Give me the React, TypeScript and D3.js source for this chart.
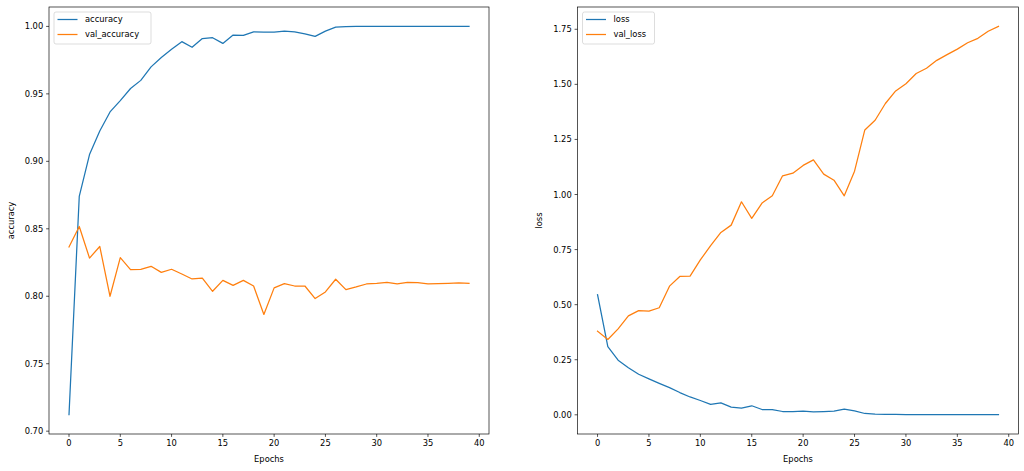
import React from "react";
import * as d3 from "d3";

const epochs: number[] = Array.from({ length: 40 }, (_, i) => i);

const accuracy: number[] = [
  0.7123, 0.874, 0.905, 0.9225, 0.9366, 0.945, 0.954, 0.96, 0.97, 0.977,
  0.983, 0.9887, 0.9845, 0.991, 0.9916, 0.9874, 0.9936, 0.9933, 0.996, 0.9958,
  0.9958, 0.9965, 0.996, 0.9945, 0.9926, 0.9965, 0.9995, 0.9999, 1.0, 1.0,
  1.0, 1.0, 1.0, 1.0, 1.0, 1.0, 1.0, 1.0, 1.0, 1.0,
];

const valAccuracy: number[] = [
  0.8365, 0.8517, 0.8283, 0.8369, 0.8, 0.8286, 0.8197, 0.82, 0.8222, 0.8177,
  0.82, 0.8165, 0.8128, 0.8135, 0.8037, 0.8118, 0.8081, 0.8118, 0.8076, 0.7865,
  0.8062, 0.8094, 0.8076, 0.8076, 0.7983, 0.8032, 0.8126, 0.8049, 0.8069, 0.8091,
  0.8096, 0.8103, 0.8091, 0.8103, 0.8101, 0.8091, 0.8094, 0.8096, 0.8099, 0.8096,
];

const loss: number[] = [
  0.545, 0.309, 0.248, 0.214, 0.184, 0.163, 0.143, 0.1235, 0.101, 0.081,
  0.065, 0.047, 0.054, 0.035, 0.03, 0.041, 0.024, 0.024, 0.015, 0.015,
  0.0166, 0.0136, 0.015, 0.0166, 0.0256, 0.018, 0.006, 0.003, 0.002, 0.0015,
  0.0012, 0.0011, 0.001, 0.001, 0.001, 0.001, 0.001, 0.001, 0.001, 0.001,
];

const valLoss: number[] = [
  0.3795, 0.342, 0.39, 0.449, 0.473, 0.471, 0.486, 0.584, 0.628, 0.6295,
  0.703, 0.768, 0.828, 0.861, 0.967, 0.892, 0.961, 0.994, 1.085, 1.097,
  1.132, 1.157, 1.0925, 1.065, 0.994, 1.106, 1.293, 1.337, 1.413, 1.47,
  1.503, 1.549, 1.573, 1.609, 1.635, 1.66, 1.689, 1.709, 1.741, 1.763,
];

const xTicks: number[] = [0, 5, 10, 15, 20, 25, 30, 35, 40];
const accTicks: number[] = [0.7, 0.75, 0.8, 0.85, 0.9, 0.95, 1.0];
const lossTicks: number[] = [0.0, 0.25, 0.5, 0.75, 1.0, 1.25, 1.5, 1.75];

const BLUE = "#1f77b4";
const ORANGE = "#ff7f0e";
const FONT = "DejaVu Sans";
const FS = 8.33;

type PanelProps = {
  left: number;
  right: number;
  top: number;
  bottom: number;
  s1: number[];
  s2: number[];
  n1: string;
  n2: string;
  yTicks: number[];
  yLabel: string;
  yLabelX: number;
  legendW: number;
};

function Panel(p: PanelProps) {
  const all = [...p.s1, ...p.s2];
  const lo = d3.min(all) as number;
  const hi = d3.max(all) as number;
  const m = (hi - lo) * 0.05;
  const x = d3.scaleLinear().domain([-1.95, 40.95]).range([p.left, p.right]);
  const y = d3.scaleLinear().domain([lo - m, hi + m]).range([p.bottom, p.top]);
  const line = d3
    .line<number>()
    .x((_, i) => x(epochs[i]))
    .y((d) => y(d));
  const tl = 2.9;
  const lx = p.left + 5;
  const ly = p.top + 5;
  return (
    <g fontFamily={FONT} fontSize={FS} fill="#000">
      <defs>
        <clipPath id={"clip" + p.left}>
          <rect x={p.left} y={p.top} width={p.right - p.left} height={p.bottom - p.top} />
        </clipPath>
      </defs>
      <g clipPath={`url(#clip${p.left})`}>
        <path d={line(p.s1) || ""} fill="none" stroke={BLUE} strokeWidth={1.25} strokeLinejoin="round" strokeLinecap="square" />
        <path d={line(p.s2) || ""} fill="none" stroke={ORANGE} strokeWidth={1.25} strokeLinejoin="round" strokeLinecap="square" />
      </g>
      <rect x={p.left} y={p.top} width={p.right - p.left} height={p.bottom - p.top} fill="none" stroke="#000" strokeWidth={0.67} />
      {xTicks.map((t) => (
        <g key={"x" + t}>
          <line x1={x(t)} x2={x(t)} y1={p.bottom} y2={p.bottom + tl} stroke="#000" strokeWidth={0.67} />
          <text x={x(t)} y={p.bottom + tl + 2.9 + FS * 0.76} textAnchor="middle">
            {t}
          </text>
        </g>
      ))}
      {p.yTicks.map((t) => (
        <g key={"y" + t}>
          <line x1={p.left - tl} x2={p.left} y1={y(t)} y2={y(t)} stroke="#000" strokeWidth={0.67} />
          <text x={p.left - tl - 2.9} y={y(t)} dy="0.36em" textAnchor="end">
            {t.toFixed(2)}
          </text>
        </g>
      ))}
      <text x={(p.left + p.right) / 2} y={462} textAnchor="middle">
        Epochs
      </text>
      <text
        transform={`translate(${p.yLabelX},${(p.top + p.bottom) / 2}) rotate(-90)`}
        textAnchor="middle"
      >
        {p.yLabel}
      </text>
      <g>
        <rect x={lx} y={ly} width={p.legendW} height={32} rx={2} fill="#fff" fillOpacity={0.8} stroke="#cccccc" strokeWidth={0.67} />
        <line x1={lx + 3.5} x2={lx + 23.5} y1={ly + 7.5} y2={ly + 7.5} stroke={BLUE} strokeWidth={1.25} />
        <text x={lx + 31} y={ly + 7.5} dy="0.36em">{p.n1}</text>
        <line x1={lx + 3.5} x2={lx + 23.5} y1={ly + 22.5} y2={ly + 22.5} stroke={ORANGE} strokeWidth={1.25} />
        <text x={lx + 31} y={ly + 22.5} dy="0.36em">{p.n2}</text>
      </g>
    </g>
  );
}

export default function App() {
  return (
    <svg
      width={1024}
      height={471}
      style={{ position: "absolute", left: 0, top: 0, background: "#fff" }}
    >
      <rect x={0} y={0} width={1024} height={471} fill="#fff" />
      <Panel
        left={49}
        right={489}
        top={7}
        bottom={434}
        s1={accuracy}
        s2={valAccuracy}
        n1="accuracy"
        n2="val_accuracy"
        yTicks={accTicks}
        yLabel="accuracy"
        yLabelX={14}
        legendW={97}
      />
      <Panel
        left={577.5}
        right={1018.5}
        top={7}
        bottom={434}
        s1={loss}
        s2={valLoss}
        n1="loss"
        n2="val_loss"
        yTicks={lossTicks}
        yLabel="loss"
        yLabelX={542}
        legendW={72}
      />
    </svg>
  );
}
